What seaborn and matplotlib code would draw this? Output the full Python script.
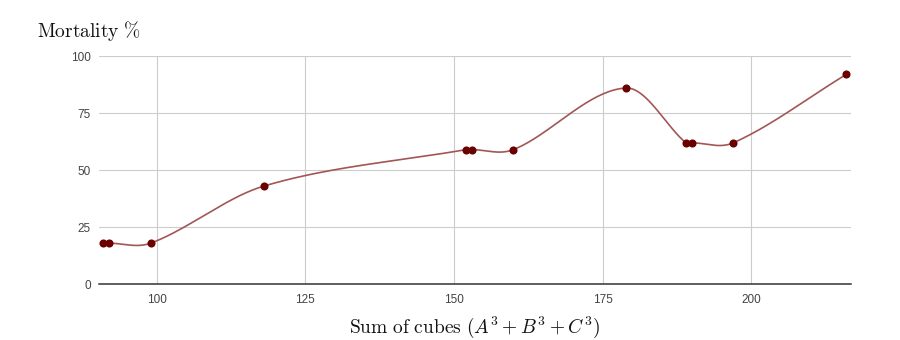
import numpy as np
import matplotlib
matplotlib.use('Agg')
import matplotlib.pyplot as plt
import seaborn as sns

# data
sum_of_cubes = [91, 92, 99, 118, 152, 153, 160, 179, 189, 190, 197, 216]
mortality = [18, 18, 18, 43, 59, 59, 59, 86, 62, 62, 62, 92]
x_ticks = [100, 125, 150, 175, 200]
y_ticks = [0, 25, 50, 75, 100]


def smooth_curve(xs, ys, n=40):
    # cubic hermite with finite-difference slopes (like a "function" curve)
    xs = np.asarray(xs, float)
    ys = np.asarray(ys, float)
    m = np.zeros_like(ys)
    m[0] = (ys[1] - ys[0]) / (xs[1] - xs[0])
    m[-1] = (ys[-1] - ys[-2]) / (xs[-1] - xs[-2])
    m[1:-1] = (ys[2:] - ys[:-2]) / (xs[2:] - xs[:-2])
    out_x, out_y = [], []
    for i in range(len(xs) - 1):
        h = xs[i + 1] - xs[i]
        t = np.linspace(0, 1, n)
        h00 = 2 * t**3 - 3 * t**2 + 1
        h10 = t**3 - 2 * t**2 + t
        h01 = -2 * t**3 + 3 * t**2
        h11 = t**3 - t**2
        out_x.extend(xs[i] + t * h)
        out_y.extend(h00 * ys[i] + h10 * h * m[i] + h01 * ys[i + 1] + h11 * h * m[i + 1])
    return np.array(out_x), np.array(out_y)


sns.set_style('white')
plt.rcParams['mathtext.fontset'] = 'cm'
plt.rcParams['font.family'] = ['Liberation Sans', 'DejaVu Sans']

fig = plt.figure(figsize=(9, 3.4), dpi=100)
ax = fig.add_axes([0.11, 0.164, 0.835, 0.671])

cx, cy = smooth_curve(sum_of_cubes, mortality)
sns.lineplot(x=cx, y=cy, ax=ax, color='#a35656', linewidth=1.2, sort=False, zorder=3)
sns.scatterplot(x=sum_of_cubes, y=mortality, ax=ax, color='#6b0000', s=34,
                edgecolor='#6b0000', linewidth=0, zorder=4)

ax.set_xlim(90.3, 216.7)
ax.set_ylim(0, 100)
ax.set_xticks(x_ticks)
ax.set_yticks(y_ticks)
ax.set_xticklabels([str(v) for v in x_ticks])
ax.set_yticklabels([str(v) for v in y_ticks])
ax.grid(True, color='#cccccc', linewidth=0.8)
ax.set_axisbelow(True)
for s in ['top', 'right', 'left']:
    ax.spines[s].set_visible(False)
ax.spines['bottom'].set_color('#333333')
ax.spines['bottom'].set_linewidth(1.1)
ax.spines['bottom'].set_zorder(2)
ax.tick_params(axis='both', length=0, labelsize=8.5, labelcolor='#444444')
ax.tick_params(axis='x', pad=7)
ax.tick_params(axis='y', pad=6)

fig.text(0.041, 0.89, r'$\mathrm{Mortality}\ \%$', fontsize=14, color='#111111',
         ha='left', va='baseline')
ax.set_xlabel(r'$\mathrm{Sum\ of\ cubes}\ (A^3+B^3+C^3)$', fontsize=14,
              color='#111111', labelpad=6)

fig.savefig('out.png', dpi=100)
